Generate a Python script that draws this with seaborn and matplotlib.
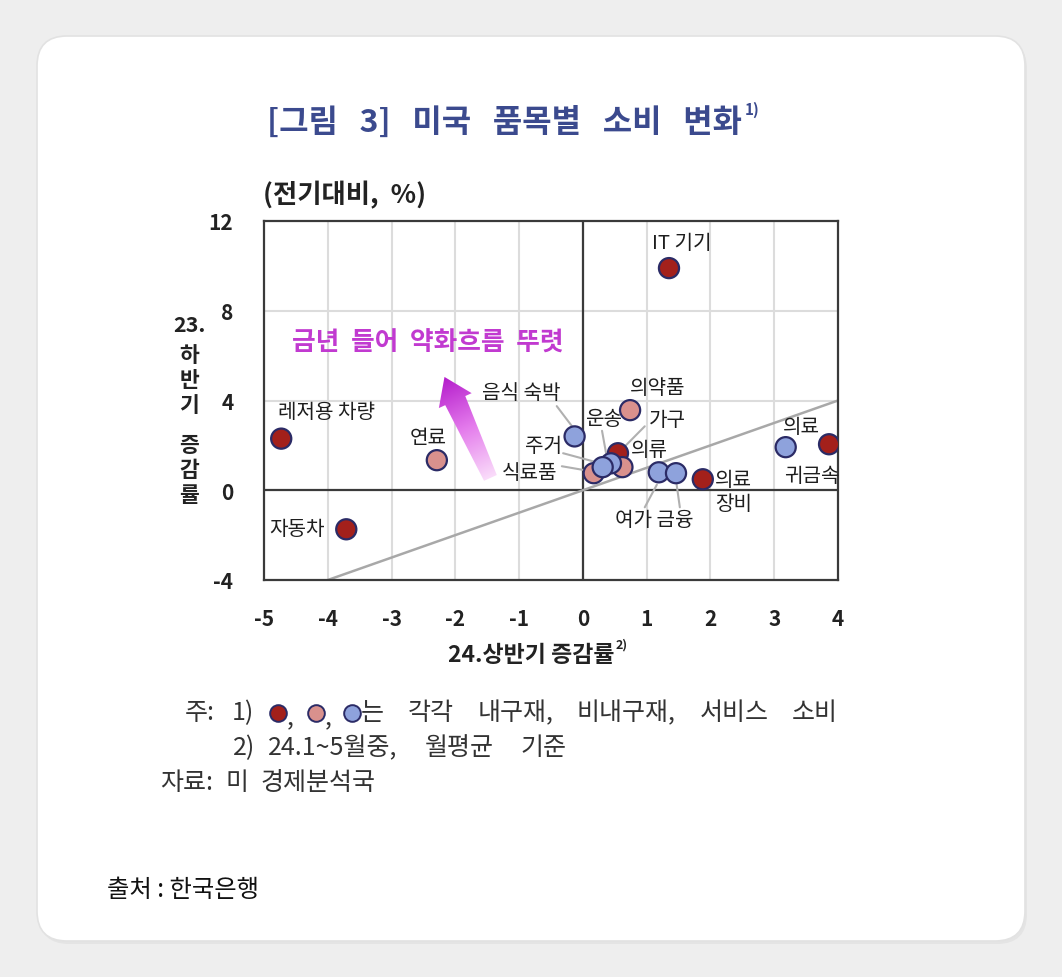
import numpy as np
import pandas as pd
import matplotlib
matplotlib.use("Agg")
import matplotlib.pyplot as plt
import seaborn as sns
from matplotlib.patches import FancyBboxPatch, Polygon
from matplotlib.lines import Line2D
from matplotlib.colors import LinearSegmentedColormap

# ---------------- data ----------------
items = ["IT 기기", "레저용 차량", "자동차", "의료장비", "귀금속", "가구",
         "연료", "의약품", "식료품", "의류",
         "음식 숙박", "운송", "주거", "여가", "금융", "의료"]
groups = ["내구재"] * 6 + ["비내구재"] * 4 + ["서비스"] * 6
x_24h1 = [1.35, -4.73, -3.71, 1.88, 3.86, 0.55,
          -2.29, 0.74, 0.17, 0.62,
          -0.13, 0.44, 0.31, 1.19, 1.46, 3.18]
y_23h2 = [9.9, 2.3, -1.74, 0.49, 2.05, 1.65,
          1.34, 3.57, 0.76, 1.03,
          2.4, 1.2, 1.03, 0.8, 0.76, 1.92]
x_ticks = [-5, -4, -3, -2, -1, 0, 1, 2, 3, 4]
y_ticks = [-4, 0, 4, 8, 12]

palette = {"내구재": "#A3201B", "비내구재": "#D9918D", "서비스": "#8EA2DC"}
edge = "#2B2B66"

df = pd.DataFrame({"item": items, "group": groups, "x": x_24h1, "y": y_23h2})

sns.set_theme(style="white")
plt.rcParams["font.family"] = ["Noto Sans CJK KR", "DejaVu Sans"]
plt.rcParams["axes.unicode_minus"] = False

W, H = 1062, 978
fig = plt.figure(figsize=(W / 100, H / 100), dpi=100)
fig.patch.set_facecolor("#eeeeee")

# card with faint shadow
shadow = FancyBboxPatch((39, H - 945), 988, 905,
                        boxstyle="round,pad=0,rounding_size=30",
                        transform=None, facecolor="#e4e4e4", edgecolor="none",
                        zorder=-11)
fig.patches.append(shadow)
card = FancyBboxPatch((37, H - 942), 988, 905,
                      boxstyle="round,pad=0,rounding_size=30",
                      transform=None, facecolor="white", edgecolor="#e2e2e2",
                      linewidth=1.2, zorder=-10)
fig.patches.append(card)

def fx(px):
    return px / W

def fy(py):
    return 1 - py / H

ax = fig.add_axes([fx(264), fy(581), fx(838) - fx(264), fy(222) - fy(581)])
ax.set_zorder(5)
ax.patch.set_alpha(0)
ax.set_xlim(-5, 4)
ax.set_ylim(-4, 12)

# grid
for gx in x_ticks[1:-1]:
    ax.axvline(gx, color="#dcdcdc", lw=1.5, zorder=0)
for gy in [4, 8]:
    ax.axhline(gy, color="#dcdcdc", lw=1.5, zorder=0)
ax.axvline(0, color="#3a3a3a", lw=1.6, zorder=1)
ax.axhline(0, color="#3a3a3a", lw=1.6, zorder=1)
ax.plot([-4, 4], [-4, 4], color="#a8a8a8", lw=1.8, zorder=1)

for s in ax.spines.values():
    s.set_color("#3a3a3a")
    s.set_linewidth(1.6)

# leader lines
leaders = [((-0.41, 3.75), (-0.17, 2.85)),
           ((0.30, 2.65), (0.37, 1.55)),
           ((0.97, 2.85), (0.50, 1.50)),
           ((-0.31, 1.65), (0.25, 1.22)),
           ((-0.33, 1.07), (0.12, 0.85)),
           ((0.97, -0.76), (1.16, 0.25)),
           ((1.52, -0.76), (1.47, 0.25))]
for (a, b) in leaders:
    ax.plot([a[0], b[0]], [a[1], b[1]], color="#b0b0b0", lw=1.5, zorder=2)

sns.scatterplot(data=df, x="x", y="y", hue="group", palette=palette, s=210,
                edgecolor=edge, linewidth=1.6, legend=False, ax=ax, zorder=3)

ax.set_xticks(x_ticks)
ax.set_yticks(y_ticks)
ax.set_xticklabels([str(v) for v in x_ticks], fontsize=15, fontweight="bold", color="#222222")
ax.set_yticklabels([str(v) for v in y_ticks], fontsize=15, fontweight="bold", color="#222222")
ax.tick_params(axis="x", length=0, pad=20)
ax.tick_params(axis="y", length=0, pad=22)
ax.set_xlabel("")
ax.set_ylabel("")

# point labels
lab_kw = dict(fontsize=14.5, color="#1e1e1e", zorder=4, va="center", fontweight="medium")
labels = [("IT 기기", 1.55, 11.05, "center"),
          ("레저용 차량", -4.02, 3.5, "center"),
          ("자동차", -4.48, -1.7, "center"),
          ("연료", -2.43, 2.35, "center"),
          ("음식 숙박", -0.96, 4.35, "center"),
          ("의약품", 1.18, 4.6, "center"),
          ("운송", 0.33, 3.2, "center"),
          ("가구", 1.33, 3.15, "center"),
          ("주거", -0.62, 2.0, "center"),
          ("의류", 1.05, 1.8, "center"),
          ("식료품", -0.83, 0.78, "center"),
          ("여가 금융", 1.12, -1.3, "center"),
          ("의료\n장비", 2.07, -0.05, "left"),
          ("의료", 3.42, 2.85, "center"),
          ("귀금속", 3.59, 0.65, "center")]
for t, lx, ly, ha in labels:
    ax.text(lx, ly, t, ha=ha, linespacing=1.2, **lab_kw)

# gradient arrow
fig.canvas.draw()
renderer = fig.canvas.get_renderer()
tail = ax.transData.transform((-1.45, 0.55))
head = ax.transData.transform((-2.17, 5.05))
d = head - tail
L = np.hypot(*d)
u = d / L
n = np.array([-u[1], u[0]])
tail_w, shaft_w, head_w, head_l = 7, 11, 18, 26
base = tail + u * (L - head_l)
pts = [tail + n * tail_w, base + n * shaft_w, base + n * head_w, head,
       base - n * head_w, base - n * shaft_w, tail - n * tail_w]
poly = Polygon(pts, closed=True, transform=None, facecolor="none", edgecolor="none")
ax.add_patch(poly)
inv = ax.transData.inverted()
dpts = inv.transform(np.array(pts))
x0, x1 = dpts[:, 0].min() - 0.1, dpts[:, 0].max() + 0.1
y0, y1 = dpts[:, 1].min() - 0.3, dpts[:, 1].max() + 0.3
gx, gy = np.meshgrid(np.linspace(x0, x1, 200), np.linspace(y0, y1, 400))
disp = ax.transData.transform(np.column_stack([gx.ravel(), gy.ravel()]))
tval = ((disp - tail) @ u) / L
tval = np.clip(tval, 0, 1).reshape(gx.shape)
cmap = LinearSegmentedColormap.from_list("arr", ["#FADDFA", "#E47BEC", "#B41CCB"])
im = ax.imshow(tval, extent=[x0, x1, y0, y1], origin="lower", cmap=cmap,
               aspect="auto", zorder=2, interpolation="bilinear")
im.set_clip_path(poly)
ax.set_xlim(-5, 4)
ax.set_ylim(-4, 12)

ax.text(-2.43, 6.6, "금년  들어  약화흐름  뚜렷", ha="center", va="center",
        fontsize=18.5, color="#C13AD0", fontweight="bold", zorder=4)

# title
fig.text(fx(742), fy(123), "[그림   3]   미국   품목별   소비   변화", ha="right", va="center",
         fontsize=23, fontweight="bold", color="#3B4A8E")
fig.text(fx(745), fy(110), "1)", ha="left", va="center", fontsize=11,
         fontweight="bold", color="#3B4A8E")

fig.text(fx(263), fy(195), "(전기대비,  %)", ha="left", va="center",
         fontsize=19, fontweight="bold", color="#222222")

# x label
fig.text(fx(615), fy(656), "24.상반기 증감률", ha="right", va="center",
         fontsize=16.5, fontweight="bold", color="#222222")
fig.text(fx(616), fy(645), "2)", ha="left", va="center",
         fontsize=9, fontweight="bold", color="#222222")

# stacked y label
ylab = [("23.", 326), ("하", 356), ("반", 381), ("기", 406),
        ("증", 446), ("감", 471), ("률", 496)]
for ch, py in ylab:
    fig.text(fx(189), fy(py), ch, ha="center", va="center",
             fontsize=15.5, fontweight="bold", color="#222222")

# notes (words spread evenly across the reference span)
note_kw = dict(fontsize=18, color="#333333", va="center", ha="left")

def justify(wlist, x_start, x_end, py):
    arts = [fig.text(0, fy(py), w, **note_kw) for w in wlist]
    widths = [a.get_window_extent(renderer).width for a in arts]
    gap = (x_end - x_start - sum(widths)) / max(len(arts) - 1, 1)
    x = x_start
    for a, w in zip(arts, widths):
        a.set_x(fx(x))
        x += w + gap

fig.text(fx(185), fy(713), "주:", **note_kw)
fig.text(fx(232), fy(713), "1)", **note_kw)
for cx, g in [(278, "내구재"), (316, "비내구재"), (352, "서비스")]:
    fig.add_artist(Line2D([fx(cx)], [fy(714)], marker="o", markersize=12,
                          markerfacecolor=palette[g], markeredgecolor=edge,
                          markeredgewidth=1.4, transform=fig.transFigure))
fig.text(fx(287), fy(717), ",", **note_kw)
fig.text(fx(325), fy(717), ",", **note_kw)
justify(["는", "각각", "내구재,", "비내구재,", "서비스", "소비"], 361, 838, 713)
fig.text(fx(233), fy(748), "2)", **note_kw)
justify(["24.1~5월중,", "월평균", "기준"], 268, 567, 748)
justify(["자료:", "미", "경제분석국"], 160, 375, 783)

fig.text(fx(107), fy(890), "출처 : 한국은행", ha="left", va="center",
         fontsize=17.5, color="#111111")

fig.savefig("out.png", dpi=100, facecolor=fig.get_facecolor())
